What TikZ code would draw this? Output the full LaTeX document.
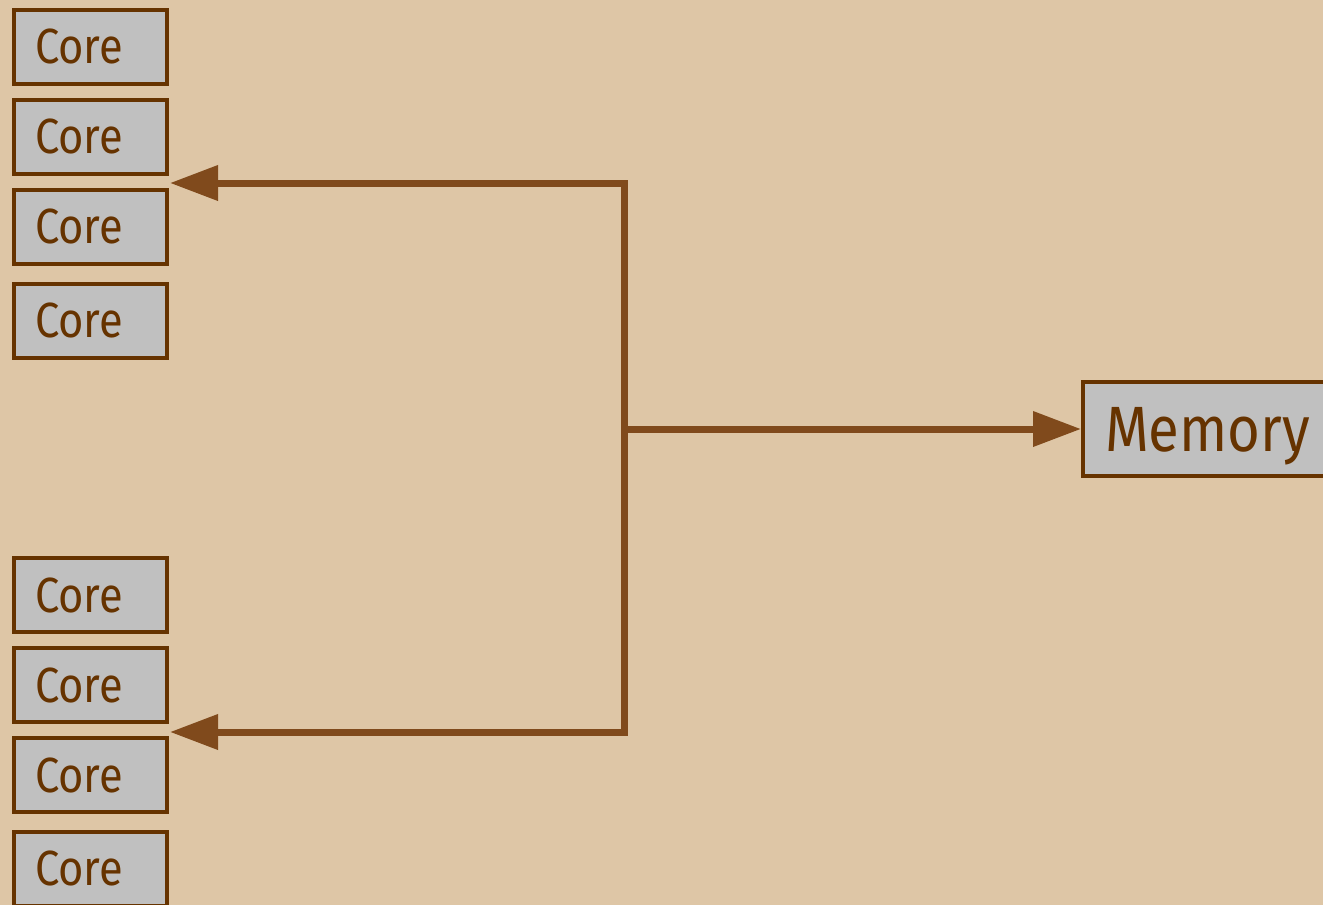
\documentclass[tikz,border=0pt]{standalone}
\usepackage{fontspec}
\setmainfont{Fira Sans}[FakeStretch=0.88]
\usetikzlibrary{arrows.meta}
\definecolor{bgtan}{HTML}{DEC6A6}
\definecolor{boxgray}{HTML}{C0C0C0}
\definecolor{boxbrown}{HTML}{663300}
\definecolor{linkbrown}{HTML}{804A1C}

\tikzset{
  corebox/.style={draw=boxbrown, line width=2pt, fill=boxgray, text=boxbrown,
    inner xsep=10.5pt, inner ysep=0pt, text width=55.5pt, align=left,
    minimum height=37pt, text depth=0pt, font=\fontsize{24.7}{28}\selectfont},
  membox/.style={draw=boxbrown, line width=2pt, fill=boxgray, text=boxbrown,
    inner xsep=11pt, inner ysep=0pt, text width=150pt, align=left,
    minimum height=47pt, text depth=0pt, font=\fontsize{32}{37}\selectfont},
  link/.style={draw=linkbrown, line width=3.5pt, -{Triangle[length=24pt, width=17pt]}}
}

\begin{document}
\begin{tikzpicture}[x=0.5pt, y=-0.5pt]
    % Tlo
    \fill[bgtan] (0,0) rectangle (1323,905);
    \clip (0,0) rectangle (1323,905);

    % Rdzenie - gorna grupa
    \node[corebox] (core1) at (90.5,46.5) {Core};
    \node[corebox] (core2) at (90.5,136.5) {Core};
    \node[corebox] (core3) at (90.5,226.5) {Core};
    \node[corebox] (core4) at (90.5,320.5) {Core};

    % Rdzenie - dolna grupa
    \node[corebox] (core5) at (90.5,595) {Core};
    \node[corebox] (core6) at (90.5,685) {Core};
    \node[corebox] (core7) at (90.5,775) {Core};
    \node[corebox] (core8) at (90.5,868.5) {Core};

    % Pamiec
    \node[membox, anchor=west] (mem) at (1081,429) {Memory};

    % Punkty polaczen
    \coordinate (hub) at (624,429);
    \coordinate (upin) at (170,183);
    \coordinate (lowin) at (170,732);

    % Polaczenia
    \draw[link] (hub) -- (mem.west);
    \draw[link] (hub) |- (upin);
    \draw[link] (hub) |- (lowin);
\end{tikzpicture}
\end{document}
